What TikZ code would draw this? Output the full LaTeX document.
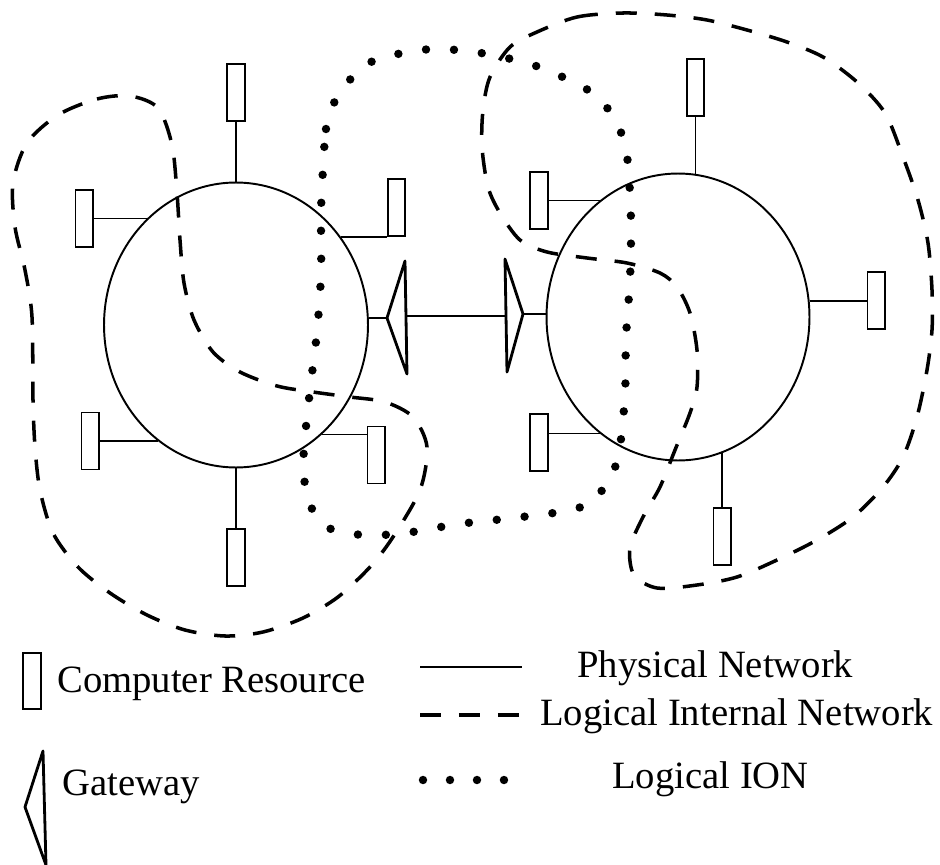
\documentclass[tikz,border=0pt]{standalone}
\usepackage{fontspec}
\setmainfont{Liberation Serif}
\usetikzlibrary{positioning, shapes.geometric}

\begin{document}
\begin{tikzpicture}[x=0.02cm, y=-0.02cm,
        every node/.style={font=\fontsize{22}{26}\selectfont},
        lan/.style={draw, ellipse, line width=1.1pt, inner sep=0pt},
        res/.style={draw, rectangle, line width=1pt, inner sep=0pt, minimum width=0.35cm, minimum height=1.14cm},
        phys/.style={line width=0.85pt},
        gate/.style={line width=1.6pt, line join=round},
        lin/.style={line width=2pt, dash pattern=on 0.42cm off 0.36cm},
        ion/.style={line width=4.8pt, line cap=round, dash pattern=on 0pt off 0.56cm},
        lbl/.style={anchor=base west, inner sep=0pt},
      ]
        \useasboundingbox (0,0) rectangle (940,865);

        \node[lan, minimum width=5.28cm, minimum height=5.7cm]  (lanA) at (236,325) {};
        \node[lan, minimum width=5.26cm, minimum height=5.74cm] (lanB) at (678,317) {};

        \node[res, above=1.2cm of lanA.north] (resA1) {};
        \node[res, left=1.06cm of lanA.130] (resA2) {};
        \node[res, right=0.92cm of lanA.40, anchor=south west] (resA3) {};
        \node[res, left=1.16cm of lanA.236] (resA4) {};
        \node[res, right=0.9cm of lanA.308, anchor=north west, yshift=0.18cm] (resA5) {};
        \node[res, below=1.2cm of lanA.south] (resA6) {};

        \node[res, above=1.14cm of lanB.83] (resB1) {};
        \node[res, left=1.02cm of lanB.124] (resB2) {};
        \node[res, right=1.14cm of lanB.7] (resB3) {};
        \node[res, left=1.02cm of lanB.236, yshift=-0.18cm] (resB4) {};
        \node[res, below=1.08cm of lanB.288] (resB5) {};

        \draw[phys] (resA1.south) -- (lanA.north);
        \draw[phys] (lanA.130) -- (lanA.130 -| resA2.east);
        \draw[phys] (lanA.40) -- (resA3.south west);
        \draw[phys] (lanA.236) -- (lanA.236 -| resA4.east);
        \draw[phys] (lanA.308) -- (lanA.308 -| resA5.west);
        \draw[phys] (resA6.north) -- (lanA.south);

        \draw[phys] (resB1.south) -- (lanB.83);
        \draw[phys] (lanB.124) -- (lanB.124 -| resB2.east);
        \draw[phys] (lanB.7) -- (resB3.west);
        \draw[phys] (lanB.236) -- (lanB.236 -| resB4.east);
        \draw[phys] (resB5.north) -- (lanB.288);

        \coordinate (gwA) at (387,318);
        \coordinate (gwB) at (523,314);
        \coordinate (gwAbase) at (406,316);
        \coordinate (gwBbase) at (506,316);
        \draw[gate] (gwA) -- ++(18,-57) -- ++(2,113) -- cycle;
        \draw[gate] (gwB) -- ++(-18,-55) -- ++(2,113) -- cycle;
        \draw[phys] (lanA.east |- gwA) -- (gwA);
        \draw[phys] (gwB) -- (lanB.west |- gwB);
        \draw[phys] (gwAbase) -- (gwBbase);

        \draw[lin] plot[smooth cycle] coordinates {(58,115) (97,99) (130,96) (158,108) (172,145) (177,193) (180,240) (184,283) (194,320) (213,352) (240,372) (277,386) (313,392) (350,397) (385,402) (413,417) (427,447) (420,490) (393,537) (370,567) (338,597) (303,618) (263,632) (225,636) (185,630) (147,615) (110,593) (78,567) (53,533) (40,490) (35,447) (33,400) (32,317) (25,270) (15,227) (13,183) (27,143)};
        \draw[lin] plot[smooth cycle] coordinates {(537,32) (577,17) (623,13) (667,15) (707,20) (747,30) (787,42) (823,57) (857,82) (885,113) (903,157) (918,200) (928,243) (932,290) (932,330) (927,370) (917,417) (903,457) (883,487) (853,517) (817,540) (777,560) (737,577) (697,585) (657,588) (634,575) (630,548) (643,517) (660,487) (675,450) (690,413) (697,387) (697,350) (690,313) (677,287) (660,273) (627,263) (587,258) (547,252) (520,240) (500,213) (488,187) (482,147) (483,110) (490,77) (510,47)};
        \draw[ion] plot[smooth cycle] coordinates {(322,187) (326,129) (335,101) (357,72) (381,58) (433,49) (487,54) (539,67) (588,90) (608,109) (622,135) (628,164) (631,221) (630,279) (626,338) (625,395) (619,453) (609,480) (591,502) (566,511) (513,518) (459,524) (406,533) (379,535) (353,534) (327,527) (310,505) (304,477) (304,448) (310,390) (317,332) (321,274) (321,217)};

        \node[res, minimum height=1.12cm] (keyRes) at (32,681) {};
        \node[lbl] (keyResTxt) at (57,692) {Computer Resource};
        \coordinate (keyGw) at (25,807);
        \draw[gate] (keyGw) -- ++(18,-56) -- ++(3,114) -- cycle;
        \node[lbl] (keyGwTxt) at (62,795) {Gateway};
        \draw[phys] (420,667) -- (522,667);
        \node[lbl] (keyPhysTxt) at (577,677) {Physical Network};
        \draw[lin] (420,715) -- (523,715);
        \node[lbl] (keyLinTxt) at (540,725) {Logical Internal Network};
        \draw[ion, dash pattern=on 0pt off 0.54cm] (423,780) -- (506,780);
        \node[lbl] (keyIonTxt) at (612,788) {Logical ION};
      \end{tikzpicture}
\end{document}
